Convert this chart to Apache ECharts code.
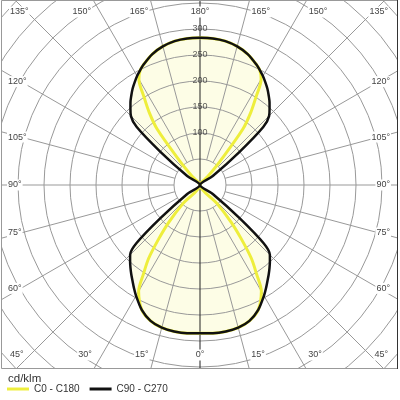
<!DOCTYPE html>
<html><head><meta charset="utf-8">
<script src="https://cdn.jsdelivr.net/npm/echarts@6/dist/echarts.min.js"></script>
<style>html,body{margin:0;padding:0;background:#fff}#c{width:400px;height:400px}</style>
</head><body><div id="c"></div>
<script>
// ---- data (cd/klm) ----
const gammas = [0,5,10,15,20,25,30,32.5,35,37.5,40,42.5,45,47.5,50,55,60,65,70,75,80,85,90,95,100,105,110,115,120,125,130,132.5,135,137.5,140,142.5,145,147.5,150,152.5,155,160,165,170,175,180];
const c90c270 = [285,286,286,284,278,265,246,236,226,217,208,199,190,166,100,30,0,0,0,0,0,0,0,0,0,0,0,0,0,30,100,165,188,198,208,217,226,234,242,249,256,268,276,281,283,283];
const c0c180  = [285,286,286,284,278,265,236,202,172,130,93,48,0,0,0,0,0,0,0,0,0,0,0,0,0,0,0,0,0,0,0,0,0,22,62,135,170,200,235,249,256,268,276,281,283,283];
const radiusTicks = [100,150,200,250,300];
const innerRadius = 50;
const angleTicks = [0,15,30,45,60,75,90,105,120,135,150,165,180];
const seriesNames = ['C0 - C180','C90 - C270'];
const unitLabel = 'cd/klm';

// ---- layout ----
const CX = 200, CY = 185, RMAX = 550, K = 0.52;
const FRAME = {x: 1, y: 0, w: 397, h: 369};
const GRID = '#999';
const FONT = 'Liberation Sans, Arial, sans-serif';

function curve(vals){
  const pts = [];
  for (let i = 0; i < gammas.length; i++) pts.push([vals[i], gammas[i]]);
  for (let i = gammas.length - 2; i >= 0; i--) pts.push([vals[i], 360 - gammas[i]]);
  return pts.filter((p, i, a) => p[0] !== 0 || (i > 0 && a[i-1][0] !== 0) || (i < a.length - 1 && a[i+1][0] !== 0));
}

const rayAngles = [];
angleTicks.forEach(g => { if (g > 0 && g < 180) { rayAngles.push(g); rayAngles.push(360 - g); } });

function angleLabels(){
  const out = [];
  const st = (text, x, y, align) => ({
    type: 'text', x: x, y: y, z: 15, silent: true,
    style: {text: text, fill: '#444', font: '9px ' + FONT, align: align, verticalAlign: 'middle',
            backgroundColor: '#fff', padding: [1, 1]}
  });
  const topY = 12, botY = 355;
  angleTicks.forEach(g => {
    const txt = g + '°';
    if (g === 0 || g === 180) { out.push(st(txt, CX, g === 0 ? botY : topY, 'center')); return; }
    [-1, 1].forEach(side => {
      const rad = g * Math.PI / 180;
      const dx = side * Math.sin(rad), dy = Math.cos(rad);
      if (g === 45 || g === 135) {
        out.push(st(txt, side < 0 ? 9 : 389, g < 90 ? botY : topY, side < 0 ? 'left' : 'right'));
      } else if (g < 45 || g > 135) {
        const edgeY = g < 90 ? FRAME.y + FRAME.h : FRAME.y;
        const x = CX + (edgeY - CY) / dy * dx;
        out.push(st(txt, side < 0 ? x - 1 : x + 1, g < 90 ? botY : topY, side < 0 ? 'right' : 'left'));
      } else {
        const x0 = side < 0 ? 21 : 379;
        const y = g === 90 ? CY : CY + (x0 - CX) / dx * dy;
        out.push(st(txt, side < 0 ? 7 : 391, y, side < 0 ? 'left' : 'right'));
      }
    });
  });
  return out;
}

const chart = echarts.init(document.getElementById('c'), null, {renderer: 'canvas'});
const YELLOW = '#eeee3c', BLACK = '#111';
chart.setOption({
  animation: false,
  backgroundColor: '#fff',
  title: {text: unitLabel, left: 8, top: 373, padding: 0, z: 20,
    textStyle: {fontSize: 11.5, fontWeight: 'normal', color: '#333', fontFamily: FONT}},
  legend: {left: 7, top: 384, padding: 0, z: 20, icon: 'rect', itemWidth: 22, itemHeight: 3, itemGap: 10,
    selectedMode: false,
    textStyle: {fontSize: 10, color: '#333', fontFamily: FONT},
    data: [{name: seriesNames[0], itemStyle: {color: YELLOW}}, {name: seriesNames[1], itemStyle: {color: BLACK}}]},
  polar: {center: [CX, CY], radius: RMAX * K},
  angleAxis: {type: 'value', min: 0, max: 360, startAngle: 270, clockwise: true,
    axisLine: {show: false}, axisTick: {show: false}, axisLabel: {show: false}, splitLine: {show: false}},
  radiusAxis: {type: 'value', min: 0, max: RMAX, interval: 50, z: 3,
    axisLine: {show: false}, axisTick: {show: false}, axisLabel: {show: false},
    splitLine: {show: true, lineStyle: {color: GRID, width: 1}}},
  graphic: [
    {type: 'rect', z: 10, silent: true, shape: {x: 0, y: FRAME.y + FRAME.h, width: 400, height: 400 - FRAME.h}, style: {fill: '#fff'}},
    {type: 'rect', z: 10, silent: true, shape: {x: 0, y: 0, width: FRAME.x, height: 400}, style: {fill: '#fff'}},
    {type: 'rect', z: 10, silent: true, shape: {x: FRAME.x + FRAME.w, y: 0, width: 400, height: 400}, style: {fill: '#fff'}},
    {type: 'rect', z: 11, silent: true, shape: {x: FRAME.x + 0.5, y: FRAME.y + 0.5, width: FRAME.w - 1, height: FRAME.h - 1}, style: {fill: null, stroke: '#999', lineWidth: 1}},
    {type: 'line', z: 11, silent: true, shape: {x1: FRAME.x + FRAME.w - 0.5, y1: 0, x2: FRAME.x + FRAME.w - 0.5, y2: FRAME.h}, style: {stroke: '#333', lineWidth: 1}}
  ].concat(angleLabels()),
  series: [
    {type: 'line', name: 'fill', coordinateSystem: 'polar', data: curve(c90c270), symbol: 'none', smooth: 0.3,
     z: 1, silent: true, lineStyle: {width: 0}, areaStyle: {color: '#fdfde6', opacity: 1}},
    {type: 'custom', name: 'rays', coordinateSystem: 'polar', z: 3, silent: true,
     data: rayAngles.map(v => [RMAX, v]),
     renderItem: (params, api) => {
       const a = api.value(1);
       const p1 = api.coord([innerRadius, a]), p2 = api.coord([RMAX, a]);
       return {type: 'line', shape: {x1: p1[0], y1: p1[1], x2: p2[0], y2: p2[1]}, style: {stroke: GRID, lineWidth: 1}};
     }},
    {type: 'custom', name: 'axis0', coordinateSystem: 'polar', z: 4, silent: true,
     data: [[RMAX, 0], [RMAX, 180]],
     renderItem: (params, api) => {
       const a = api.value(1);
       const p1 = api.coord([0, a]), p2 = api.coord([RMAX, a]);
       return {type: 'line', shape: {x1: p1[0], y1: p1[1], x2: p2[0], y2: p2[1]}, style: {stroke: '#222', lineWidth: 1}};
     }},
    {type: 'scatter', name: 'rlabels', coordinateSystem: 'polar', z: 7, silent: true, symbolSize: 0,
     data: radiusTicks.map(r => [r, 180]),
     label: {show: true, position: 'inside', formatter: p => String(p.value[0]), fontSize: 9, color: '#333', fontFamily: FONT}},
    {type: 'line', name: seriesNames[0], coordinateSystem: 'polar', data: curve(c0c180), symbol: 'none', smooth: 0.3,
     z: 5, silent: true, lineStyle: {width: 3, color: YELLOW}, itemStyle: {color: YELLOW}},
    {type: 'line', name: seriesNames[1], coordinateSystem: 'polar', data: curve(c90c270), symbol: 'none', smooth: 0.3,
     z: 6, silent: true, lineStyle: {width: 2.5, color: BLACK}, itemStyle: {color: BLACK}}
  ]
});
</script>
</body></html>
